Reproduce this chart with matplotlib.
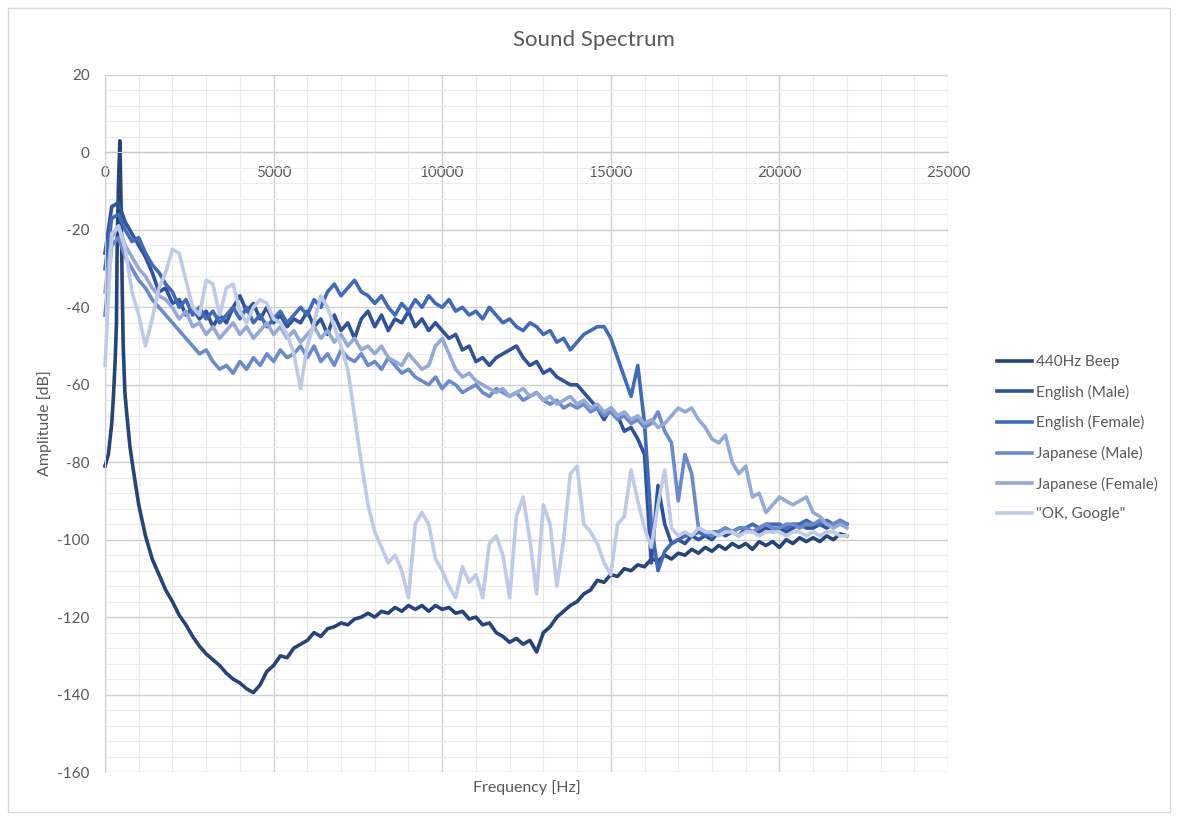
import numpy as np
import matplotlib
matplotlib.use("Agg")
import matplotlib.pyplot as plt
from matplotlib.patches import Rectangle
from matplotlib.ticker import MultipleLocator

plt.rcParams['font.family'] = ['Lato', 'DejaVu Sans']

# ---------------------------------------------------------------- data
series_names = ["440Hz Beep", "English (Male)", "English (Female)",
                "Japanese (Male)", "Japanese (Female)", "\"OK, Google\""]
series_colors = ['#264478', '#30529A', '#4169BA', '#6C8ACB', '#95A9D9', '#BFCAE6']

# common sampling grid of the voice spectra [Hz]
freq = np.arange(0, 22001, 200)

# 440 Hz beep: dense points around the tone, then the common grid from 1 kHz
beep_freq = [0, 100, 200, 250, 300, 340, 360, 400, 440, 480, 510, 540, 590, 640,
             740, 840] + list(range(1000, 22001, 200))
beep_db = [-81, -78, -70, -63, -54, -44, -25, -8, 3, -15, -35, -50, -62, -67,
           -76, -82,
           -91, -99, -105, -109, -113, -116, -119.5, -122, -125, -127.5,
           -129.5, -131, -132.5, -134.5, -136, -137, -138.5, -139.5, -137.5, -134,
           -132.5, -130, -130.5, -128, -127, -126, -124, -125, -123, -122.5,
           -121.5, -122, -120.5, -120, -119, -120, -118.5, -119, -117.5, -118.5,
           -117, -118, -117, -118.5, -117, -118, -117.5, -119, -118.5, -120.5,
           -120, -122, -121.5, -124, -125, -126.5, -125.5, -127, -126, -129,
           -124, -122.5, -120, -118.5, -117, -116, -114, -113, -110.5, -111,
           -109, -109.5, -107.5, -108, -106.5, -107, -105, -105.5, -104, -105,
           -103.5, -104, -102.5, -103.5, -102, -103, -101.5, -102.5, -101, -102,
           -101, -102.5, -100.5, -101.5, -100.5, -102, -100, -101, -99.5, -100.5,
           -99.5, -100.5, -99, -100, -98.5, -99]

en_male_db = [
    -26, -14, -13, -18, -21, -24, -27, -31, -36, -35,
    -39, -38, -42, -40, -43, -41, -45, -42, -44, -40,
    -37, -41, -39, -43, -40, -44, -42, -45, -43, -44,
    -41, -45, -43, -47, -42, -46, -44, -48, -43, -41,
    -45, -42, -46, -43, -44, -41, -45, -43, -46, -44,
    -46, -48, -47, -51, -50, -54, -53, -55, -53, -52,
    -51, -50, -53, -55, -54, -57, -56, -58, -59, -60,
    -60, -62, -64, -66, -69, -66, -68, -72, -71, -74,
    -78, -106, -86, -96, -101, -100, -101, -99, -100, -99,
    -100, -98, -99, -98, -99, -97, -98, -98, -97, -98,
    -97, -98, -97, -96, -97, -97, -96, -97, -96, -96,
    -96]

en_female_db = [
    -30, -17, -16, -20, -23, -22, -26, -29, -31, -34,
    -36, -40, -38, -42, -40, -43, -41, -44, -42, -40,
    -43, -40, -44, -42, -45, -43, -41, -44, -42, -40,
    -42, -38, -40, -36, -34, -37, -35, -33, -36, -37,
    -39, -37, -40, -42, -39, -41, -38, -40, -37, -39,
    -40, -38, -41, -40, -42, -41, -43, -40, -42, -44,
    -43, -45, -46, -44, -45, -47, -46, -49, -48, -51,
    -49, -47, -46, -45, -45, -48, -53, -58, -63, -55,
    -70, -96, -108, -103, -101, -100, -99, -99, -98, -99,
    -98, -98, -97, -98, -97, -97, -96, -97, -96, -96,
    -96, -97, -96, -96, -95, -96, -96, -95, -96, -95,
    -96]

ja_male_db = [
    -42, -24, -22, -27, -30, -33, -35, -38, -40, -42,
    -44, -46, -48, -50, -52, -51, -54, -56, -55, -57,
    -54, -56, -53, -55, -52, -54, -51, -53, -52, -50,
    -53, -50, -54, -52, -55, -51, -53, -54, -52, -55,
    -54, -56, -53, -55, -57, -56, -58, -59, -60, -58,
    -61, -59, -60, -62, -61, -60, -62, -63, -61, -62,
    -63, -62, -64, -63, -62, -64, -65, -64, -66, -65,
    -66, -65, -67, -66, -68, -67, -69, -68, -70, -69,
    -71, -70, -67, -72, -75, -90, -78, -83, -97, -98,
    -99, -98, -97, -98, -97, -97, -98, -97, -96, -97,
    -97, -96, -96, -97, -96, -96, -95, -96, -96, -95,
    -96]

ja_female_db = [
    -36, -22, -19, -24, -27, -30, -32, -35, -37, -38,
    -40, -43, -41, -45, -44, -47, -45, -48, -46, -44,
    -47, -45, -48, -46, -44, -47, -45, -48, -46, -49,
    -47, -45, -48, -46, -49, -47, -50, -48, -51, -50,
    -52, -50, -53, -54, -55, -52, -54, -56, -55, -50,
    -48, -52, -56, -58, -57, -59, -60, -61, -62, -61,
    -63, -62, -61, -63, -62, -64, -63, -65, -64, -63,
    -65, -64, -66, -65, -67, -66, -68, -67, -69, -68,
    -70, -69, -71, -70, -68, -66, -67, -66, -69, -71,
    -74, -75, -73, -80, -83, -81, -89, -88, -93, -91,
    -89, -90, -91, -90, -89, -93, -94, -96, -97, -96,
    -97]

ok_google_db = [
    -55, -21, -19, -25, -36, -42, -50, -43, -35, -31,
    -25, -26, -33, -40, -42, -33, -34, -42, -35, -34,
    -41, -44, -40, -38, -39, -43, -44, -47, -52, -61,
    -50, -44, -37, -40, -45, -50, -56, -68, -80, -91,
    -98, -102, -106, -104, -108, -115, -96, -93, -96, -105,
    -108, -112, -115, -107, -111, -109, -115, -101, -99, -104,
    -115, -94, -89, -100, -114, -91, -96, -112, -100, -83,
    -81, -96, -98, -101, -106, -109, -96, -94, -82, -90,
    -97, -102, -91, -82, -97, -99, -98, -99, -97, -98,
    -98, -99, -98, -98, -99, -98, -98, -99, -98, -98,
    -98, -99, -98, -98, -99, -98, -99, -98, -98, -99,
    -99]

x_ticks = [0, 5000, 10000, 15000, 20000, 25000]
y_ticks = [20, 0, -20, -40, -60, -80, -100, -120, -140, -160]

# ---------------------------------------------------------------- figure
W, H = 1178, 816
fig = plt.figure(figsize=(W / 100, H / 100), dpi=100)
fig.patch.set_facecolor('white')

# chart area border
fig.patches.append(Rectangle((8 / W, 4 / H), 1162 / W, 804 / H,
                             transform=fig.transFigure, fill=False,
                             edgecolor='#d9d9d9', lw=1.0))

ax = fig.add_axes([105 / W, 1 - 772 / H, (948 - 105) / W, (772 - 75) / H])
ax.set_xlim(0, 25000)
ax.set_ylim(-160, 20)

ax.xaxis.set_major_locator(MultipleLocator(5000))
ax.xaxis.set_minor_locator(MultipleLocator(1000))
ax.yaxis.set_major_locator(MultipleLocator(20))
ax.yaxis.set_minor_locator(MultipleLocator(4))
ax.set_xticks(x_ticks)
ax.set_yticks(y_ticks)
ax.set_xticklabels([str(v) for v in x_ticks])
ax.set_yticklabels([str(v) for v in y_ticks])

ax.grid(which='major', color='#d0d0d0', lw=1.0)
ax.grid(which='minor', color='#ebebeb', lw=0.8)
ax.set_axisbelow(True)

for s in ['top', 'right']:
    ax.spines[s].set_visible(False)
ax.spines['left'].set_color('#d0d0d0')
ax.spines['bottom'].set_position(('data', 0))
ax.spines['bottom'].set_color('#c8c8c8')

ax.tick_params(axis='both', which='both', length=0, colors='#595959',
               labelsize=11)
ax.tick_params(axis='x', pad=10)
ax.tick_params(axis='y', pad=11)

# series
all_x = [beep_freq, freq, freq, freq, freq, freq]
all_y = [beep_db, en_male_db, en_female_db, ja_male_db, ja_female_db, ok_google_db]
for xs, ys, name, col in zip(all_x, all_y, series_names, series_colors):
    ax.plot(xs, ys, color=col, lw=2.6, label=name, solid_joinstyle='round',
            clip_on=False)

# titles
fig.text(594 / W, 1 - 40 / H, "Sound Spectrum", ha='center', va='center',
         fontsize=16, color='#595959')
fig.text(527 / W, 1 - 788 / H, "Frequency [Hz]", ha='center', va='center',
         fontsize=11.5, color='#595959')
fig.text(45 / W, 1 - 423 / H, "Amplitude [dB]", ha='center', va='center',
         rotation=90, fontsize=11.5, color='#595959')

leg = fig.legend(loc='upper left', bbox_to_anchor=(997 / W, 1 - 355 / H),
                 frameon=False, fontsize=11, handlelength=2.3,
                 handletextpad=0.25, labelspacing=1.02, borderaxespad=0,
                 borderpad=0)
for t in leg.get_texts():
    t.set_color('#595959')

fig.savefig("out.png", dpi=100, facecolor='white')
